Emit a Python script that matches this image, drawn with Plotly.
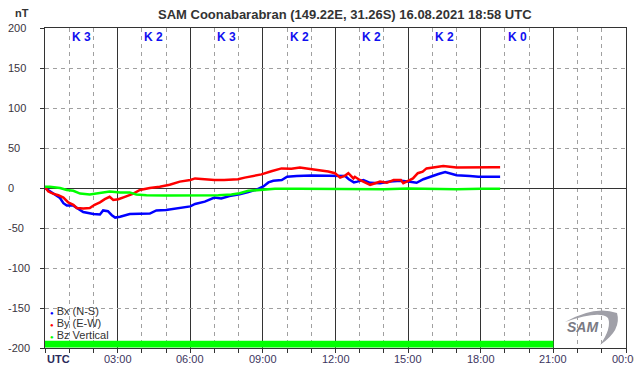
import plotly.graph_objects as go

# ---------------- data ----------------
bx_hours = [0, 0.2, 0.62, 0.76, 0.9, 1.17, 1.31, 1.58, 2.0, 2.27, 2.4, 2.6, 2.76, 2.9, 3.1, 3.5,
            4.33, 4.6, 5.0, 5.57, 6.0, 6.2, 6.6, 7.0, 7.28, 7.62, 8.04, 8.4, 8.74, 9.02, 9.23, 9.43,
            9.78, 10.0, 10.4, 11.0, 11.5, 12.07, 12.4, 12.55, 12.76, 12.9, 13.15, 13.43, 13.84,
            14.25, 14.7, 15.0, 15.35, 15.63, 15.97, 16.25, 16.53, 16.74, 17.0, 17.55, 17.9, 18.38, 18.8]
bx_values = [0, -4, -12.5, -19, -22, -22, -25, -30, -32.5, -33, -28, -29, -34, -37, -36, -32.5,
             -32, -28, -27.5, -25, -23, -20, -17, -12, -13, -10, -8, -5, -2, 2, 7, 9,
             10, 14, 15, 15.5, 15.5, 15, 15, 11, 7, 8, 10, 6.5, 6,
             8, 9, 8, 6.5, 11, 15, 17.5, 20, 18, 16, 15, 14, 14, 14]

by_hours = [0, 0.14, 0.33, 0.55, 0.76, 0.96, 1.17, 1.31, 1.58, 1.85, 2.05, 2.27, 2.47, 2.67, 2.82,
            3.03, 3.3, 3.65, 3.92, 4.33, 4.74, 5.15, 5.57, 6.0, 6.2, 6.6, 7.0, 7.4, 7.97, 8.25, 8.6,
            8.94, 9.35, 9.77, 10.18, 10.53, 10.88, 11.3, 11.7, 11.98, 12.19, 12.4, 12.53, 12.74,
            12.8, 13.0, 13.28, 13.43, 13.64, 13.84, 14.12, 14.4, 14.7, 14.8, 15.0, 15.2, 15.4, 15.6,
            15.76, 16.03, 16.45, 17.0, 17.55, 18.1, 18.5, 18.8]
by_values = [1, -4.5, -7, -9, -12, -18, -21, -25, -25.5, -25, -21, -18, -14, -11, -15,
             -14, -11, -7, -2.5, 0, 1.5, 4, 8, 10, 12, 11, 10, 10, 11, 13, 15.5,
             17, 21, 24.5, 24, 25.5, 24, 22.5, 20.5, 18.5, 13, 15.5, 18.5, 12,
             14, 10, 6.5, 4, 6, 8, 6.5, 10, 10, 6, 9, 12, 18.5, 20.5,
             24.5, 26, 27.5, 25.5, 26, 26.5, 26, 26]

bz_hours = [0, 0.2, 0.62, 0.9, 1.17, 1.45, 1.85, 2.27, 2.67, 3.1, 3.5, 3.77, 4.19, 5.0, 6.0, 6.4,
            6.75, 7.16, 7.7, 8.04, 8.4, 9.0, 9.5, 10.5, 12.0, 13.0, 14.0, 15.0, 16.0, 17.0, 18.0, 18.8]
bz_values = [1.5, 1.5, 0, -2.5, -3.5, -7, -8, -6, -4.5, -5.5, -5.5, -8, -9, -9.5, -9.5, -9.5,
             -9.5, -9, -8, -6.5, -3.5, -2.5, -1, -1, -1, -1, -1.5, -0.5, -1, -1.5, -1, -1]

series_names = ["Bx (N-S)", "By (E-W)", "Bz Vertical"]
series_colors = ["#0000ff", "#ff0000", "#00ff00"]

k_centers = [1.5, 4.5, 7.5, 10.5, 13.5, 16.5, 19.5]
k_values = [3, 2, 3, 2, 2, 2, 0]

y_ticks = [200, 150, 100, 50, 0, -50, -100, -150, -200]
x_tick_hours = [3, 6, 9, 12, 15, 18, 21, 24]
x_tick_labels = ["03:00", "06:00", "09:00", "12:00", "15:00", "18:00", "21:00", "00:00"]
coverage_start, coverage_end = 0, 21

title_text = "SAM Coonabarabran (149.22E, 31.26S) 16.08.2021 18:58 UTC"

# ---------------- figure ----------------
# The page body has an 8px margin, so the figure is drawn 8px smaller and
# all positions are given in window pixels minus that offset.
OFF = 8
W, H = 642 - OFF, 376 - OFF
ML, MR, MT, MB = 45 - OFF, 16, 28 - OFF, 28
PW, PH = W - ML - MR, H - MT - MB
FONT = "Arial, Liberation Sans, sans-serif"


def px(x):
    return (x - OFF - ML) / PW


def py(y):
    return (H - MB - (y - OFF)) / PH


fig = go.Figure()
for xs, ys, name, col in zip([bx_hours, by_hours, bz_hours], [bx_values, by_values, bz_values],
                             series_names, series_colors):
    fig.add_trace(go.Scatter(x=xs, y=ys, mode="lines", name=name,
                             line=dict(color=col, width=2.5), showlegend=False))

# data coverage bar
fig.add_shape(type="rect", xref="x", yref="y", x0=coverage_start, x1=coverage_end,
              y0=-199.5, y1=-191, fillcolor="#00ff00", line_width=0, layer="above")

annotations = []
# K indices
for xc, k in zip(k_centers, k_values):
    annotations.append(dict(x=xc, y=189, xref="x", yref="y", text=f"<b>K {k}</b>", showarrow=False,
                            font=dict(family=FONT, size=12, color="#1010f0")))
# y tick labels (left aligned)
for v in y_ticks:
    annotations.append(dict(x=px(6), y=v, xref="paper", yref="y", text=str(v), showarrow=False,
                            xanchor="left", yanchor="middle",
                            font=dict(family=FONT, size=11, color="#3a3440")))
# x tick labels
for hx, lab in zip(x_tick_hours, x_tick_labels):
    annotations.append(dict(x=hx, y=py(359), xref="x", yref="paper", text=lab, showarrow=False,
                            xanchor="center", yanchor="middle",
                            font=dict(family=FONT, size=11, color="#3c3460")))
# UTC label
annotations.append(dict(x=0, y=py(359), xref="x", yref="paper", text="<b>UTC</b>", showarrow=False,
                        xanchor="left", yanchor="middle",
                        font=dict(family=FONT, size=11, color="#2a2a5a")))
# title and unit
annotations.append(dict(x=px(345), y=py(14), xref="paper", yref="paper", text=f"<b>{title_text}</b>",
                        showarrow=False, xanchor="center", yanchor="middle",
                        font=dict(family=FONT, size=13, color="#333333")))
annotations.append(dict(x=px(22), y=py(13), xref="paper", yref="paper", text="<b>nT</b>",
                        showarrow=False, xanchor="center", yanchor="middle",
                        font=dict(family=FONT, size=11, color="#333333")))
# legend
for i, (name, col) in enumerate(zip(series_names, series_colors)):
    annotations.append(dict(x=px(48), y=py(310.7 + i * 12.3), xref="paper", yref="paper",
                            text=f'<span style="color:{col};font-size:6px">●</span> {name}',
                            showarrow=False, xanchor="left", yanchor="middle",
                            font=dict(family=FONT, size=11, color="#333333")))
# logo
annotations.append(dict(x=px(582), y=py(327), xref="paper", yref="paper",
                        text="<b><i>SAM</i></b>", showarrow=False, xanchor="center",
                        yanchor="middle", font=dict(family=FONT, size=14, color="#7a7a84")))

pts = [(565, 322), (595, 305), (617, 313), (622, 330), (600, 345), (612, 328), (608, 318), (600, 310), (565, 322)]
P = [(px(a), py(b)) for a, b in pts]
path = (f"M {P[0][0]},{P[0][1]} Q {P[1][0]},{P[1][1]} {P[2][0]},{P[2][1]} "
        f"Q {P[3][0]},{P[3][1]} {P[4][0]},{P[4][1]} Q {P[5][0]},{P[5][1]} {P[6][0]},{P[6][1]} "
        f"Q {P[7][0]},{P[7][1]} {P[8][0]},{P[8][1]} Z")
fig.add_shape(type="path", xref="paper", yref="paper", path=path, fillcolor="#a0a0a8",
              line_width=0, layer="above")

fig.update_layout(
    width=W, height=H, margin=dict(l=ML, r=MR, t=MT, b=MB, pad=0, autoexpand=False),
    paper_bgcolor="white", plot_bgcolor="white",
    annotations=annotations, showlegend=False,
    xaxis=dict(range=[0, 24], tickmode="array", tickvals=x_tick_hours, showticklabels=False,
               automargin=False,
               showgrid=True, gridcolor="#333333", gridwidth=1,
               ticks="outside", ticklen=4, tickcolor="#333333",
               showline=True, linecolor="#333333", linewidth=1, mirror=True, zeroline=False,
               minor=dict(tickmode="array", tickvals=list(range(25)), showgrid=True,
                          gridcolor="#a0a0a0", griddash="4px,4px", gridwidth=1,
                          ticks="outside", ticklen=4, tickcolor="#333333")),
    yaxis=dict(range=[-200, 200], tickmode="array", tickvals=y_ticks, showticklabels=False,
               automargin=False,
               showgrid=True, gridcolor="#a0a0a0", griddash="4px,4px", gridwidth=1,
               ticks="outside", ticklen=4, tickcolor="#333333",
               showline=True, linecolor="#333333", linewidth=1, mirror=True,
               zeroline=True, zerolinecolor="#333333", zerolinewidth=1),
)

fig.write_html("out.html")
